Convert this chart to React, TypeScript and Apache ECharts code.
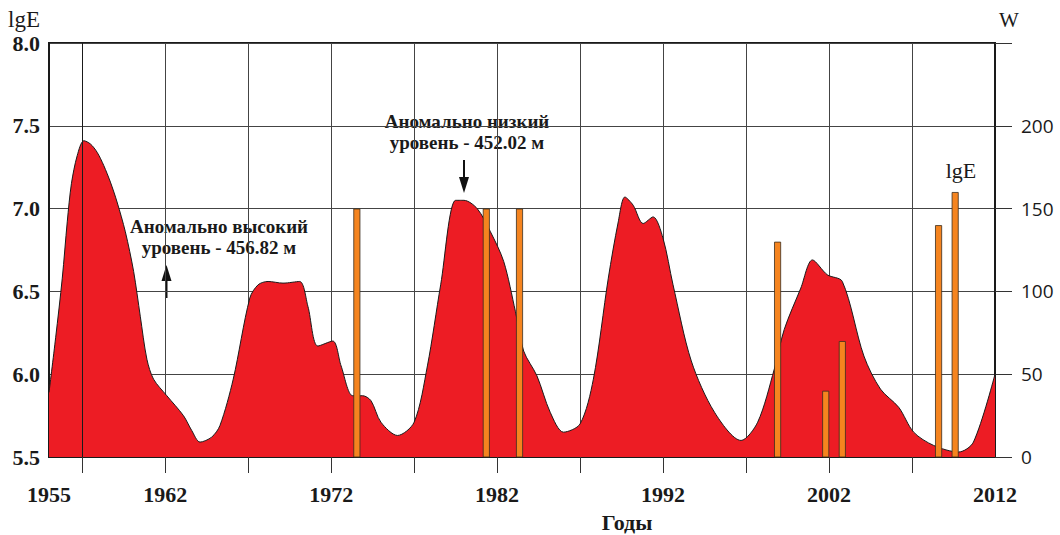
import React, { useEffect, useRef } from "react";
import * as echarts from "echarts";

// Sunspot number W (smoothed), [year, W]
const sunspotW: [number, number][] = [
  [1955.0, 39], [1955.4, 72], [1955.8, 108], [1956.1, 142], [1956.35, 165],
  [1956.7, 182], [1957.1, 191], [1957.5, 189], [1957.9, 184], [1958.3, 176],
  [1958.7, 166], [1959.1, 154], [1959.6, 136], [1960.1, 112], [1960.5, 85],
  [1960.9, 59], [1961.3, 47], [1962.1, 37], [1963.1, 25], [1963.6, 16],
  [1964.1, 9], [1964.8, 12], [1965.3, 19], [1966.1, 47], [1967.1, 96],
  [1967.6, 104], [1968.2, 106], [1969.1, 105], [1970.1, 106], [1970.6, 91],
  [1971.2, 67], [1972.1, 70], [1972.6, 55], [1973.3, 37], [1973.9, 37],
  [1974.4, 34], [1975.0, 21], [1976.0, 13], [1977.0, 21], [1977.8, 55],
  [1978.6, 104], [1979.5, 155], [1980.0, 155], [1980.8, 150], [1981.6, 136],
  [1982.4, 118], [1983.1, 88], [1983.6, 64], [1984.4, 49], [1985.2, 27],
  [1986.0, 15], [1987.0, 20], [1987.8, 47], [1988.7, 108], [1989.3, 142],
  [1989.7, 157], [1990.2, 152], [1990.8, 141], [1991.4, 145], [1992.0, 132],
  [1992.6, 104], [1993.7, 58], [1995.1, 27], [1996.7, 10], [1997.7, 21],
  [1998.7, 53], [1999.3, 77], [2000.3, 102], [2001.0, 119], [2001.9, 110],
  [2002.8, 106], [2004.1, 61], [2005.1, 41], [2006.2, 30], [2007.1, 15],
  [2008.3, 7], [2009.8, 3], [2010.7, 9], [2012.0, 50],
];

// Strong events, [year, lgE]
const energyLgE: [number, number][] = [
  [1973.55, 7.0], [1981.35, 7.0], [1983.35, 7.0], [1998.9, 6.8],
  [2001.8, 5.9], [2002.8, 6.2], [2008.6, 6.9], [2009.6, 7.1],
];

const yearLabels = [1955, 1962, 1972, 1982, 1992, 2002, 2012];
const gridYears = [1957, 1962, 1967, 1972, 1977, 1982, 1987, 1992, 1997, 2002, 2007];

const SERIF = "'Liberation Serif', 'Times New Roman', serif";
const SANS = "'Open Sans', 'DejaVu Sans', sans-serif";

export default function App() {
  const ref = useRef<HTMLDivElement>(null);

  useEffect(() => {
    if (!ref.current) return;
    const chart = echarts.init(ref.current, undefined, { renderer: "svg" });

    chart.setOption({
      animation: false,
      backgroundColor: "#ffffff",
      grid: {
        left: 49,
        right: 65,
        top: 43,
        bottom: 78,
        show: true,
        borderColor: "#1a1a1a",
        borderWidth: 2,
        backgroundColor: "transparent",
      },
      xAxis: {
        type: "value",
        min: 1955,
        max: 2012,
        axisLine: { show: true, onZero: false, lineStyle: { color: "#1a1a1a", width: 2 } },
        axisTick: {
          show: true,
          inside: false,
          length: 16,
          customValues: gridYears,
          lineStyle: { color: "#333", width: 1 },
        },
        axisLabel: {
          customValues: yearLabels,
          margin: 26,
          color: "#1a1a1a",
          fontFamily: SERIF,
          fontWeight: "bold",
          fontSize: 22,
          formatter: (v: number) => String(Math.round(v)),
        },
        splitLine: { show: true, lineStyle: { color: "#444", width: 1 } },
      },
      yAxis: [
        {
          type: "value",
          min: 5.5,
          max: 8.0,
          interval: 0.5,
          axisLine: { show: true, onZero: false, lineStyle: { color: "#1a1a1a", width: 2 } },
          axisTick: { show: false },
          axisLabel: {
            margin: 9,
            color: "#1a1a1a",
            fontFamily: SERIF,
            fontWeight: "bold",
            fontSize: 22,
            formatter: (v: number) => v.toFixed(1),
          },
          splitLine: { show: true, lineStyle: { color: "#444", width: 1 } },
        },
        {
          type: "value",
          min: 0,
          max: 250,
          interval: 50,
          position: "right",
          axisLine: { show: true, onZero: false, lineStyle: { color: "#1a1a1a", width: 2 } },
          axisTick: { show: true, inside: false, length: 17, lineStyle: { color: "#333", width: 1 } },
          axisLabel: {
            margin: 26,
            color: "#1a1a1a",
            fontFamily: SANS,
            fontSize: 19,
            formatter: (v: number) => (v === 250 ? "" : String(v)),
          },
          splitLine: { show: false },
        },
      ],
      series: [
        {
          name: "W",
          type: "line",
          xAxisIndex: 0,
          yAxisIndex: 1,
          data: sunspotW,
          smooth: 0.3,
          symbol: "none",
          lineStyle: { color: "#1a1a1a", width: 1 },
          areaStyle: { color: "#ED1C24", opacity: 1 },
          z: 2,
          markLine: {
            silent: true,
            symbol: "none",
            label: { show: false },
            lineStyle: { color: "#1a1a1a", width: 1, type: "solid" },
            data: [{ xAxis: gridYears[0] }],
          },
        },
        {
          name: "lgE",
          type: "bar",
          xAxisIndex: 0,
          yAxisIndex: 0,
          data: energyLgE,
          barWidth: 7,
          clip: true,
          itemStyle: { color: "#F5841F", borderColor: "#3a2d20", borderWidth: 0.8 },
          z: 3,
        },
      ],
      graphic: [
        // axis titles
        {
          type: "text", left: 8, top: 8,
          style: { text: "lgE", fontFamily: SERIF, fontSize: 23, fill: "#1a1a1a" },
        },
        {
          type: "text", left: 999, top: 9,
          style: { text: "W", fontFamily: SERIF, fontSize: 21, fill: "#1a1a1a" },
        },
        {
          type: "text", x: 627, y: 522,
          style: {
            text: "Годы", fontFamily: SERIF, fontWeight: "bold", fontSize: 22, fill: "#1a1a1a",
            align: "center", verticalAlign: "middle",
          },
        },
        // series captions
        {
          type: "text", x: 637, y: 314,
          style: {
            text: "W", fontFamily: SERIF, fontWeight: "bold", fontSize: 19, fill: "#222",
            align: "center", verticalAlign: "middle",
          },
        },
        {
          type: "text", x: 961, y: 170,
          style: {
            text: "lgE", fontFamily: SERIF, fontSize: 22, fill: "#1a1a1a",
            align: "center", verticalAlign: "middle",
          },
        },
        // lake level annotations
        {
          type: "text", x: 219, y: 237,
          style: {
            text: "Аномально высокий\nуровень - 456.82 м",
            fontFamily: SERIF, fontWeight: "bold", fontSize: 19, lineHeight: 21,
            fill: "#1a1a1a", align: "center", verticalAlign: "middle",
          },
        },
        {
          type: "line",
          shape: { x1: 166.5, y1: 298, x2: 166.5, y2: 278 },
          style: { stroke: "#111", lineWidth: 2 },
        },
        {
          type: "polygon",
          shape: { points: [[161.5, 281], [171.5, 281], [166.5, 265]] },
          style: { fill: "#111" },
        },
        {
          type: "text", x: 467, y: 132,
          style: {
            text: "Аномально низкий\nуровень - 452.02 м",
            fontFamily: SERIF, fontWeight: "bold", fontSize: 19, lineHeight: 21,
            fill: "#1a1a1a", align: "center", verticalAlign: "middle",
          },
        },
        {
          type: "line",
          shape: { x1: 464, y1: 160, x2: 464, y2: 180 },
          style: { stroke: "#111", lineWidth: 2 },
        },
        {
          type: "polygon",
          shape: { points: [[459, 177], [469, 177], [464, 193]] },
          style: { fill: "#111" },
        },
      ],
    });

    return () => chart.dispose();
  }, []);

  return <div ref={ref} style={{ width: 1060, height: 535, position: "absolute", left: 0, top: 0 }} />;
}
